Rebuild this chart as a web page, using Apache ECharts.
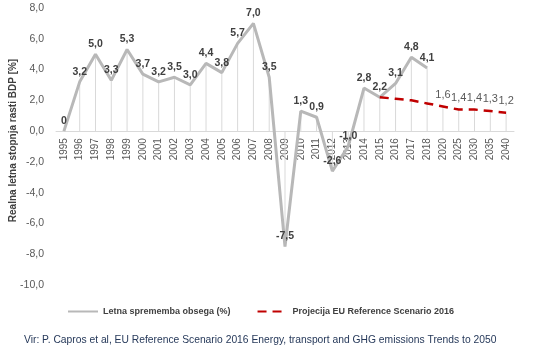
<!DOCTYPE html>
<html>
<head>
<meta charset="utf-8">
<script src="https://cdn.jsdelivr.net/npm/echarts@6/dist/echarts.min.js"></script>
<style>
  html, body { margin: 0; padding: 0; background: #fff; }
  #chart { width: 549px; height: 354px; }
</style>
</head>
<body>
<div id="chart"></div>
<script>
const years = ['1995', '1996', '1997', '1998', '1999', '2000', '2001', '2002', '2003', '2004',
  '2005', '2006', '2007', '2008', '2009', '2010', '2011', '2012', '2013', '2014',
  '2015', '2016', '2017', '2018', '2020', '2025', '2030', '2035', '2040']

// letna sprememba obsega (1995-2018)
const growth = [0, 3.2, 5.0, 3.3, 5.3, 3.7, 3.2, 3.5, 3.0, 4.4,
  3.8, 5.7, 7.0, 3.5, -7.5, 1.3, 0.9, -2.6, -1.0, 2.8,
  2.2, 3.1, 4.8, 4.1]

// projekcija EU Reference Scenario 2016 (2015-2040)
const projection = [null, null, null, null, null, null, null, null, null, null,
  null, null, null, null, null, null, null, null, null, null,
  2.2, 2.1, 2.0, 1.8, 1.6, 1.4, 1.4, 1.3, 1.2]

const labelFromYear = '2020'

const FONT = '"Liberation Sans", Arial, sans-serif'
const fmt = v => (v === 0 ? '0' : v.toFixed(1).replace('.', ','))

// drop lines: od 0 do vrednosti točke
const dropLines = years.map((_, i) => (growth[i] != null ? growth[i] : projection[i]))
const firstLabelIdx = years.indexOf(labelFromYear)

const Y_MIN = -10, Y_MAX = 8
const GRID = { left: 56, right: 35, top: 8, bottom: 69 }
// os x leži na vrednosti 0
const plotH = 354 - GRID.top - GRID.bottom
const zeroOffset = -plotH * (0 - Y_MIN) / (Y_MAX - Y_MIN)

const chart = echarts.init(document.getElementById('chart'))
chart.setOption({
  animation: false,
  textStyle: { fontFamily: FONT },
  grid: { ...GRID, containLabel: false, outerBoundsMode: 'none' },
  legend: {
    data: ['Letna sprememba obsega (%)', 'Projecija EU Reference Scenario 2016'],
    left: 62,
    top: 302,
    itemWidth: 30,
    itemHeight: 10,
    itemGap: 26,
    textStyle: { fontFamily: FONT, fontSize: 9, fontWeight: 'bold', color: '#404040' }
  },
  graphic: [{
    type: 'text',
    left: 24,
    top: 335,
    style: {
      text: 'Vir: P. Capros et al, EU Reference Scenario 2016 Energy, transport and GHG emissions Trends to 2050',
      fontFamily: FONT,
      fontSize: 10.3,
      fill: '#26395a'
    }
  }],
  xAxis: {
    type: 'category',
    data: years,
    offset: zeroOffset,
    axisTick: { show: false },
    axisLine: { onZero: false, lineStyle: { color: '#d9d9d9', width: 1 } },
    axisLabel: { rotate: 90, fontSize: 10, color: '#595959', margin: 7, interval: 0 }
  },
  yAxis: {
    type: 'value',
    min: Y_MIN,
    max: Y_MAX,
    interval: 2,
    name: 'Realna letna stopnja rasti BDP [%]',
    nameLocation: 'middle',
    nameGap: 38,
    nameMoveOverlap: false,
    nameTextStyle: { fontFamily: FONT, fontSize: 10, fontWeight: 'bold', color: '#404040', padding: [0, 0, 0, 12] },
    axisLine: { show: false },
    axisTick: { show: false },
    splitLine: { show: false },
    axisLabel: { fontSize: 10.5, color: '#595959', margin: 12, formatter: v => v.toFixed(1).replace('.', ',') }
  },
  series: [
    {
      name: 'drop',
      type: 'bar',
      data: dropLines,
      barWidth: 1,
      silent: true,
      itemStyle: { color: '#d9d9d9' },
      z: 1
    },
    {
      name: 'Letna sprememba obsega (%)',
      type: 'line',
      data: growth,
      symbol: 'circle',
      symbolSize: 1,
      lineStyle: { color: '#b8b8b8', width: 3 },
      itemStyle: { color: 'transparent' },
      label: {
        show: true,
        position: 'top',
        distance: 4,
        fontFamily: FONT,
        fontSize: 10.5,
        fontWeight: 'bold',
        color: '#404040',
        formatter: p => fmt(p.value)
      },
      z: 3
    },
    {
      name: 'Projecija EU Reference Scenario 2016',
      type: 'line',
      data: projection,
      symbol: 'circle',
      symbolSize: 1,
      lineStyle: { color: '#c00000', width: 2.5, type: [9, 6] },
      itemStyle: { color: 'transparent' },
      label: {
        show: true,
        position: 'top',
        distance: 6,
        fontFamily: FONT,
        fontSize: 11,
        color: '#595959',
        formatter: p => (p.dataIndex >= firstLabelIdx ? fmt(p.value) : '')
      },
      z: 4
    }
  ]
})
</script>
</body>
</html>
